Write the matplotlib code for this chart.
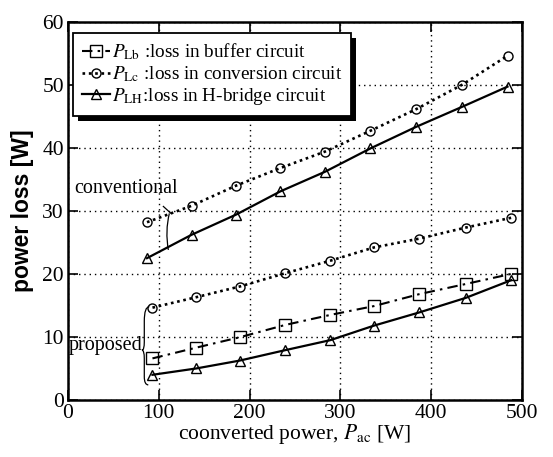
import numpy as np
import matplotlib
matplotlib.use('Agg')
import matplotlib.pyplot as plt
from matplotlib.path import Path
from matplotlib.patches import PathPatch, Rectangle

plt.rcParams['font.family'] = ['Liberation Serif', 'DejaVu Serif']
plt.rcParams['mathtext.fontset'] = 'stix'

# conventional circuit
x_conv = [87, 136, 185, 234, 283, 333, 383, 434, 484]
lc_conv = [28.2, 30.8, 34.0, 36.8, 39.4, 42.7, 46.1, 50.0, 54.6]
lh_conv = [22.5, 26.2, 29.4, 33.1, 36.2, 39.9, 43.3, 46.5, 49.7]

# proposed circuit
x_prop = [93, 141, 189, 239, 289, 337, 387, 438, 488]
lb_prop = [6.6, 8.3, 9.95, 11.9, 13.5, 14.9, 16.8, 18.4, 20.0]
lc_prop = [14.65, 16.3, 18.0, 20.1, 22.1, 24.2, 25.6, 27.35, 28.9]
lh_prop = [4.0, 5.0, 6.25, 7.9, 9.5, 11.8, 13.9, 16.2, 19.0]

fig = plt.figure(figsize=(5.53, 4.57), dpi=100)
ax = fig.add_axes([0.123, 0.1247, 0.821, 0.8278])

dotted = (0, (1, 1.4))
dashdot = (0, (5, 2.5, 1.2, 2.5))

mk = dict(markerfacecolor='none', markeredgecolor='k', markeredgewidth=1.0)

ax.plot(x_conv, lc_conv, color='k', lw=1.9, ls=dotted, marker='o', ms=6.5, **mk)
ax.plot(x_conv, lh_conv, color='k', lw=1.6, ls='-', marker='^', ms=7.5, **mk)

l1, = ax.plot(x_prop, lb_prop, color='k', lw=1.5, ls=dashdot, marker='s', ms=8, **mk)
l2, = ax.plot(x_prop, lc_prop, color='k', lw=1.9, ls=dotted, marker='o', ms=6.5, **mk)
l3, = ax.plot(x_prop, lh_prop, color='k', lw=1.6, ls='-', marker='^', ms=7.5, **mk)

ax.set_xlim(0, 500)
ax.set_ylim(0, 60)
ax.set_xticks([0, 100, 200, 300, 400, 500])
ax.set_yticks([0, 10, 20, 30, 40, 50, 60])
ax.grid(True, color='k', ls=(0, (1, 2.8)), lw=1.0)
ax.tick_params(direction='in', length=7, width=1.2, top=True, right=True,
               labelsize=15.5, pad=3)
for s in ax.spines.values():
    s.set_linewidth(1.8)

ax.set_xlabel('coonverted power, $P_{\\rm ac}$ [W]', fontsize=15.5)
ax.xaxis.set_label_coords(0.5, -0.058)
ax.set_ylabel('power loss [W]', fontsize=16.5, fontweight='bold',
              family=['Liberation Sans'])
ax.yaxis.set_label_coords(-0.075, 0.5)

leg = ax.legend([l1, l2, l3],
                ['$P_{\\rm Lb}$ :loss in buffer circuit',
                 '$P_{\\rm Lc}$ :loss in conversion circuit',
                 '$P_{\\rm LH}$:loss in H-bridge circuit'],
                loc='upper left', bbox_to_anchor=(0.011, 0.970), borderaxespad=0,
                fontsize=13.8, handlelength=1.5, handletextpad=0.1,
                labelspacing=0.1, borderpad=0.45, fancybox=False,
                framealpha=1)
leg.get_frame().set_edgecolor('k')
leg.get_frame().set_linewidth(1.3)

# thick black legend shadow
fig.canvas.draw()
bb = leg.get_window_extent().transformed(fig.transFigure.inverted())
dx, dy = 4.5 / 553, 5.0 / 457
ax.add_patch(Rectangle((bb.x0 + dx, bb.y0 - dy), bb.width, bb.height,
                       transform=fig.transFigure, facecolor='k', edgecolor='none',
                       zorder=4.9, clip_on=False))

# annotations
ax.text(6.5, 33.5, 'conventional', fontsize=14.5, va='center', ha='left')
ax.plot([105.0, 113.4], [30.7, 29.6], color='k', lw=0.9)
verts = [(111.6, 29.6), (106.8, 26.8), (110.5, 23.8)]
ax.add_patch(PathPatch(Path(verts, [Path.MOVETO, Path.CURVE3, Path.CURVE3]),
                       fill=False, lw=0.9, color='k'))

ax.text(0.5, 8.7, 'proposed', fontsize=14.5, va='center', ha='left')
brace = [(89.5, 14.8), (84, 14.8), (84, 12.5), (84, 9.2), (84, 7.9), (81.5, 7.9),
         (84, 7.9), (84, 6.6), (84, 3.7), (84, 2.4), (88.4, 2.4)]
codes = [Path.MOVETO, Path.CURVE3, Path.CURVE3, Path.LINETO, Path.CURVE3, Path.CURVE3,
         Path.CURVE3, Path.CURVE3, Path.LINETO, Path.CURVE3, Path.CURVE3]
ax.add_patch(PathPatch(Path(brace, codes), fill=False, lw=0.9, color='k'))

fig.savefig('out.png', dpi=100)
